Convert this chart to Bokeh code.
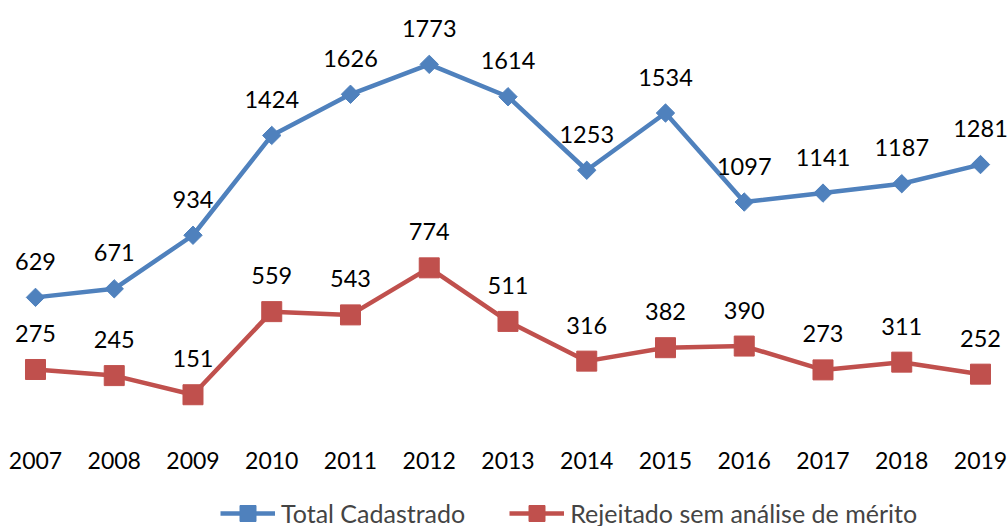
from bokeh.plotting import figure
from bokeh.models import ColumnDataSource, FixedTicker, Range1d, Legend, LegendItem
from bokeh.core.properties import value
from bokeh.embed import file_html
from bokeh.resources import INLINE
import math

years = ["2007", "2008", "2009", "2010", "2011", "2012", "2013",
         "2014", "2015", "2016", "2017", "2018", "2019"]
total_cadastrado = [629, 671, 934, 1424, 1626, 1773, 1614, 1253, 1534, 1097, 1141, 1187, 1281]
rejeitado = [275, 245, 151, 559, 543, 774, 511, 316, 382, 390, 273, 311, 252]

BLUE = "#4F81BD"
RED = "#C0504D"
FONT = "Lato"

xs = list(range(len(years)))
src_t = ColumnDataSource(dict(x=xs, y=total_cadastrado, lbl=[str(v) for v in total_cadastrado]))
src_r = ColumnDataSource(dict(x=xs, y=rejeitado, lbl=[str(v) for v in rejeitado]))

p = figure(frame_width=1008, frame_height=526, output_backend="svg", toolbar_location=None,
           x_range=Range1d(-0.4444, 12.3556), y_range=Range1d(-495.8, 2086.4),
           min_border_left=0, min_border_right=0, min_border_top=0, min_border_bottom=0)
p.outline_line_color = None
p.grid.visible = False
p.yaxis.visible = False

xa = p.xaxis[0]
xa.fixed_location = -73.6
xa.ticker = FixedTicker(ticks=xs)
xa.major_label_overrides = {i: y for i, y in enumerate(years)}
xa.axis_line_color = None
xa.major_tick_line_color = None
xa.minor_tick_line_color = None
xa.major_tick_out = 0
xa.major_label_standoff = 12
xa.major_label_text_font = FONT
xa.major_label_text_font_size = "23px"
xa.major_label_text_color = "black"

l1 = p.line("x", "y", source=src_t, line_color=BLUE, line_width=4.5)
m1 = p.scatter("x", "y", source=src_t, marker="square", size=13, angle=math.pi / 4,
               fill_color=BLUE, line_color=BLUE)
l2 = p.line("x", "y", source=src_r, line_color=RED, line_width=4.5)
m2 = p.scatter("x", "y", source=src_r, marker="square", size=20,
               fill_color=RED, line_color=RED)

for src in (src_t, src_r):
    p.text("x", "y", text="lbl", source=src, text_align="center", text_baseline="middle",
           y_offset=-36, text_font=value(FONT), text_font_size="23.5px", text_color="black")

legend = Legend(items=[LegendItem(label="Total Cadastrado", renderers=[l1, m1]),
                       LegendItem(label="Rejeitado sem análise de mérito", renderers=[l2, m2])],
                orientation="horizontal", location=(220, -7),
                label_text_font=FONT, label_text_font_size="25px", label_height=26,
                label_standoff=6,
                glyph_width=55, glyph_height=40, spacing=44, padding=0, margin=0,
                border_line_color=None, background_fill_alpha=0)
p.add_layout(legend, "center")

open("out.html", "w").write(file_html(p, INLINE))
